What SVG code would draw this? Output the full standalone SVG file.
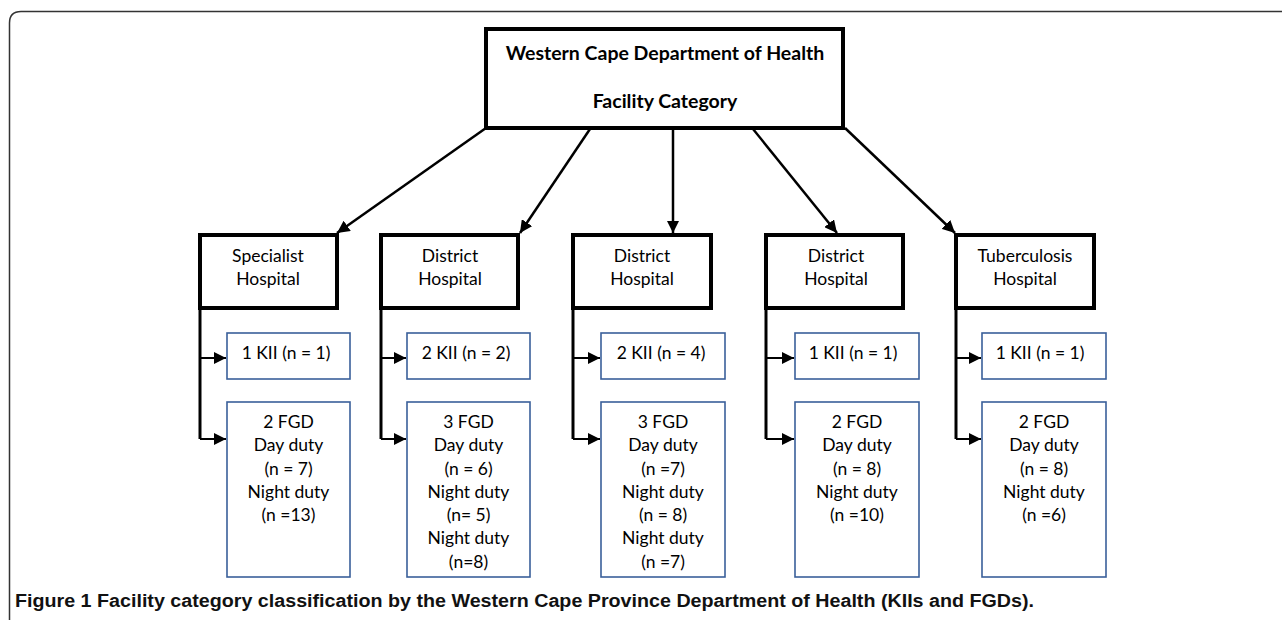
<svg xmlns="http://www.w3.org/2000/svg" width="1282" height="620" viewBox="0 0 1282 620">
<defs>
<style>
.frame{fill:none;stroke:#333;stroke-width:1.5}
.top{fill:#fff;stroke:#000;stroke-width:4}
.hosp{fill:#fff;stroke:#000;stroke-width:4}
.sub{fill:#fff;stroke:#3a5f9a;stroke-width:1.6}
.t{font-family:Lato,"Liberation Sans",sans-serif;font-size:17.5px;fill:#000;text-anchor:middle}
.tb{font-family:Lato,"Liberation Sans",sans-serif;font-size:19.5px;font-weight:bold;fill:#000;text-anchor:middle}
.cap{font-family:"Liberation Sans",sans-serif;font-size:18px;font-weight:bold;fill:#111}
.ar{fill:none;stroke:#000;stroke-width:2.5}
.br{fill:none;stroke:#000;stroke-width:3}
.bh{fill:none;stroke:#000;stroke-width:2}
</style>
<marker id="ah" viewBox="0 0 10 10" refX="10" refY="5" markerWidth="5" markerHeight="5" orient="auto" markerUnits="strokeWidth">
<path d="M0,0 L10,5 L0,10 Z" fill="#000"/>
</marker>
<marker id="ah2" viewBox="0 0 10 10" refX="10" refY="5" markerWidth="6" markerHeight="6" orient="auto" markerUnits="strokeWidth">
<path d="M0,0 L10,5 L0,10 Z" fill="#000"/>
</marker>
</defs>
<rect width="1282" height="620" fill="#fff"/>
<path class="frame" d="M1282,11.5 H21 Q9.5,11.5 9.5,23 V620"/>

<g id="connectors">
<line class="ar" x1="486" y1="128" x2="337" y2="233" marker-end="url(#ah)"/>
<line class="ar" x1="590" y1="129" x2="520" y2="233" marker-end="url(#ah)"/>
<line class="ar" x1="673" y1="129" x2="673" y2="233" marker-end="url(#ah)"/>
<line class="ar" x1="753" y1="129" x2="837" y2="233" marker-end="url(#ah)"/>
<line class="ar" x1="845" y1="128" x2="955" y2="233" marker-end="url(#ah)"/>

<path class="br" d="M200,308 V439"/>
<line class="bh" x1="200" y1="358" x2="226" y2="358" marker-end="url(#ah2)"/>
<line class="bh" x1="200" y1="439" x2="226" y2="439" marker-end="url(#ah2)"/>

<path class="br" d="M381,308 V439"/>
<line class="bh" x1="381" y1="358" x2="406" y2="358" marker-end="url(#ah2)"/>
<line class="bh" x1="381" y1="439" x2="406" y2="439" marker-end="url(#ah2)"/>

<path class="br" d="M573,308 V439"/>
<line class="bh" x1="573" y1="358" x2="600" y2="358" marker-end="url(#ah2)"/>
<line class="bh" x1="573" y1="439" x2="600" y2="439" marker-end="url(#ah2)"/>

<path class="br" d="M766,308 V439"/>
<line class="bh" x1="766" y1="358" x2="794" y2="358" marker-end="url(#ah2)"/>
<line class="bh" x1="766" y1="439" x2="794" y2="439" marker-end="url(#ah2)"/>

<path class="br" d="M956,308 V439"/>
<line class="bh" x1="956" y1="358" x2="981" y2="358" marker-end="url(#ah2)"/>
<line class="bh" x1="956" y1="439" x2="981" y2="439" marker-end="url(#ah2)"/>
</g>

<g id="top">
<rect class="top" x="486" y="29" width="357" height="99"/>
<text class="tb" x="665" y="60">Western Cape Department of Health</text>
<text class="tb" x="665" y="108">Facility Category</text>
</g>

<g id="h1">
<rect class="hosp" x="200" y="235" width="137" height="73"/>
<text class="t" x="268" y="262">Specialist</text>
<text class="t" x="268" y="285">Hospital</text>
</g>
<g id="h2">
<rect class="hosp" x="381" y="235" width="137" height="73"/>
<text class="t" x="450" y="262">District</text>
<text class="t" x="450" y="285">Hospital</text>
</g>
<g id="h3">
<rect class="hosp" x="573" y="235" width="138" height="73"/>
<text class="t" x="642" y="262">District</text>
<text class="t" x="642" y="285">Hospital</text>
</g>
<g id="h4">
<rect class="hosp" x="766" y="235" width="137" height="73"/>
<text class="t" x="836" y="262">District</text>
<text class="t" x="836" y="285">Hospital</text>
</g>
<g id="h5">
<rect class="hosp" x="956" y="235" width="138" height="73"/>
<text class="t" x="1025" y="262">Tuberculosis</text>
<text class="t" x="1025" y="285">Hospital</text>
</g>

<g id="k1"><rect class="sub" x="227" y="333" width="123" height="46"/><text class="t" x="286" y="359">1 KII (n = 1)</text></g>
<g id="k2"><rect class="sub" x="407" y="333" width="123" height="46"/><text class="t" x="466" y="359">2 KII (n = 2)</text></g>
<g id="k3"><rect class="sub" x="601" y="333" width="124" height="46"/><text class="t" x="661" y="359">2 KII (n = 4)</text></g>
<g id="k4"><rect class="sub" x="795" y="333" width="124" height="46"/><text class="t" x="853" y="359">1 KII (n = 1)</text></g>
<g id="k5"><rect class="sub" x="982" y="333" width="124" height="46"/><text class="t" x="1040" y="359">1 KII (n = 1)</text></g>

<g id="f1"><rect class="sub" x="227" y="402" width="123" height="175"/>
<text class="t" x="288.5" y="428">2 FGD</text><text class="t" x="288.5" y="451">Day duty</text><text class="t" x="288.5" y="475">(n = 7)</text><text class="t" x="288.5" y="498">Night duty</text><text class="t" x="288.5" y="521">(n =13)</text></g>
<g id="f2"><rect class="sub" x="407" y="402" width="123" height="175"/>
<text class="t" x="468.5" y="428">3 FGD</text><text class="t" x="468.5" y="451">Day duty</text><text class="t" x="468.5" y="475">(n = 6)</text><text class="t" x="468.5" y="498">Night duty</text><text class="t" x="468.5" y="521">(n= 5)</text><text class="t" x="468.5" y="544">Night duty</text><text class="t" x="468.5" y="568">(n=8)</text></g>
<g id="f3"><rect class="sub" x="601" y="402" width="124" height="175"/>
<text class="t" x="663" y="428">3 FGD</text><text class="t" x="663" y="451">Day duty</text><text class="t" x="663" y="475">(n =7)</text><text class="t" x="663" y="498">Night duty</text><text class="t" x="663" y="521">(n = 8)</text><text class="t" x="663" y="544">Night duty</text><text class="t" x="663" y="568">(n =7)</text></g>
<g id="f4"><rect class="sub" x="795" y="402" width="124" height="175"/>
<text class="t" x="857" y="428">2 FGD</text><text class="t" x="857" y="451">Day duty</text><text class="t" x="857" y="475">(n = 8)</text><text class="t" x="857" y="498">Night duty</text><text class="t" x="857" y="521">(n =10)</text></g>
<g id="f5"><rect class="sub" x="982" y="402" width="124" height="175"/>
<text class="t" x="1044" y="428">2 FGD</text><text class="t" x="1044" y="451">Day duty</text><text class="t" x="1044" y="475">(n = 8)</text><text class="t" x="1044" y="498">Night duty</text><text class="t" x="1044" y="521">(n =6)</text></g>

<text class="cap" x="15" y="607" textLength="1019" lengthAdjust="spacingAndGlyphs">Figure 1 Facility category classification by the Western Cape Province Department of Health (KIIs and FGDs).</text>
</svg>
